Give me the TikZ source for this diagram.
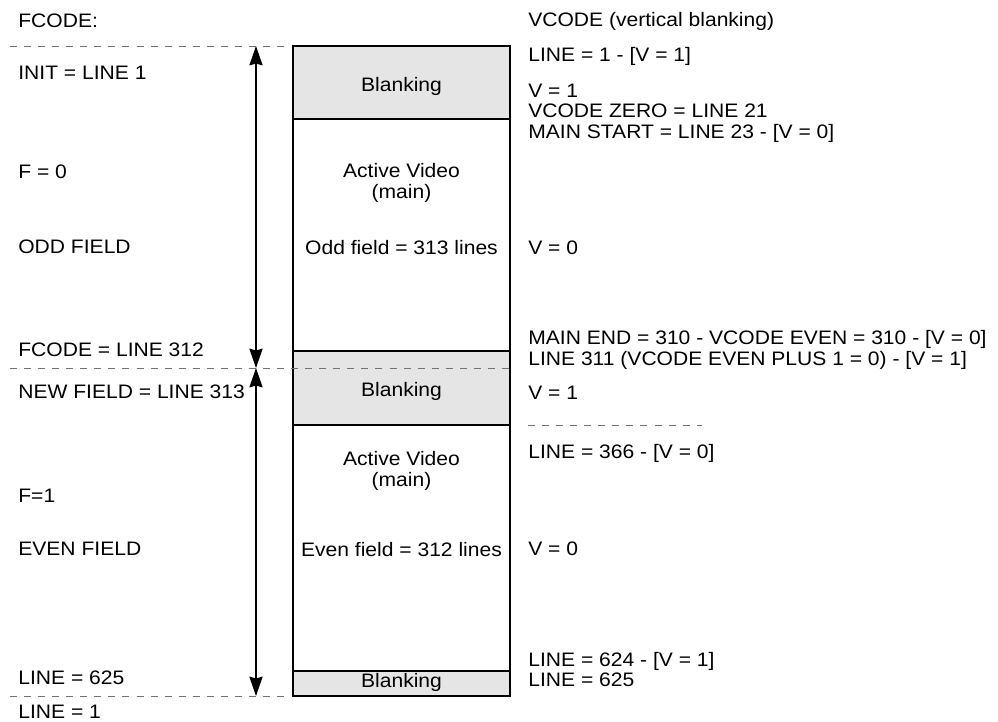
\documentclass[tikz,border=0pt]{standalone}
\usepackage{fontspec}
\setmainfont{Liberation Sans}[FakeStretch=1.08]
\usetikzlibrary{positioning,arrows.meta}

\begin{document}
\begin{tikzpicture}[
  x=0.02cm, y=-0.02cm,
  >={Stealth[length=11pt,width=7.5pt,inset=1pt]},
  font=\fontsize{11.1}{11.6}\selectfont,
  lbl/.style={anchor=west, inner sep=0pt, align=left},
  ctr/.style={inner sep=0pt, align=center},
  blankbox/.style={draw=black, line width=1pt, fill=black!10, minimum width=4.34cm, inner sep=0pt},
  mainbox/.style={draw=black, line width=1pt, fill=white, minimum width=4.34cm, inner sep=0pt},
  sep/.style={draw=black!55, line width=0.5pt, dash pattern=on 4pt off 4pt},
  dblarr/.style={<->, line width=0.85pt}
]
  \useasboundingbox (0,0) rectangle (998,721);

  % field boxes
  \node[mainbox, minimum height=4.64cm] (main1) at (401.5,235) {};
  \node[mainbox, minimum height=4.92cm] (main2) at (401.5,548) {};
  \node[blankbox, minimum height=1.46cm] (blank1) at (401.5,82.5) {};
  \node[blankbox, minimum height=1.48cm] (blank2) at (401.5,388) {};
  \node[blankbox, minimum height=0.5cm] (blank3) at (401.5,683.5) {};

  \node[ctr] (bl1) at (401.5,86) {Blanking};
  \node[ctr] (bl2) at (401.5,391) {Blanking};
  \node[ctr] (bl3) at (401.5,682) {Blanking};
  \node[ctr] (act1) at (401.5,183) {Active Video\\(main)};
  \node[ctr] (odd) at (401.5,248) {Odd field = 313 lines};
  \node[ctr] (act2) at (401.5,471) {Active Video\\(main)};
  \node[ctr] (even) at (401.5,550) {Even field = 312 lines};

  % separators
  \coordinate (s0a) at (10,46);  \coordinate (s0b) at (290,46);
  \coordinate (s1a) at (10,368); \coordinate (s1b) at (510,368);
  \coordinate (s2a) at (10,696); \coordinate (s2b) at (290,696);
  \coordinate (s3a) at (528,425); \coordinate (s3b) at (702,425);
  \draw[sep] (s0a) -- (s0b);
  \draw[sep] (s1a) -- (s1b);
  \draw[sep] (s2a) -- (s2b);
  \draw[sep] (s3a) -- (s3b);

  % field arrows
  \coordinate (f0) at (256,46);
  \coordinate (f1) at (256,368);
  \coordinate (f2) at (256,696);
  \draw[dblarr] (f0) -- (f1);
  \draw[dblarr] (f1) -- (f2);

  % FCODE column
  \node[lbl] (fcode) at (18,21) {FCODE:};
  \node[lbl] (init) at (18,73) {INIT = LINE 1};
  \node[lbl] (fzero) at (18,172) {F = 0};
  \node[lbl] (oddf) at (18,247) {ODD FIELD};
  \node[lbl] (f312) at (18,350) {FCODE = LINE 312};
  \node[lbl] (f313) at (18,392) {NEW FIELD = LINE 313};
  \node[lbl] (fone) at (18,496) {F=1};
  \node[lbl] (evenf) at (18,549) {EVEN FIELD};
  \node[lbl] (l625) at (18,678) {LINE = 625};
  \node[lbl] (l1) at (18,712) {LINE = 1};

  % VCODE column
  \node[lbl] (vcode) at (528,21) {VCODE (vertical blanking)};
  \node[lbl] (v1) at (528,56) {LINE = 1 - [V = 1]};
  \node[lbl] (vstart) at (528,113) {V = 1\\VCODE ZERO = LINE 21\\MAIN START = LINE 23 - [V = 0]};
  \node[lbl] (vzero1) at (528,248) {V = 0};
  \node[lbl] (vend) at (528,350) {MAIN END = 310 - VCODE EVEN = 310 - [V = 0]\\LINE 311 (VCODE EVEN PLUS 1 = 0) - [V = 1]};
  \node[lbl] (vone) at (528,393) {V = 1};
  \node[lbl] (v366) at (528,453) {LINE = 366 - [V = 0]};
  \node[lbl] (vzero2) at (528,549) {V = 0};
  \node[lbl] (vlast) at (528,669.5) {LINE = 624 - [V = 1]\\LINE = 625};
\end{tikzpicture}
\end{document}
